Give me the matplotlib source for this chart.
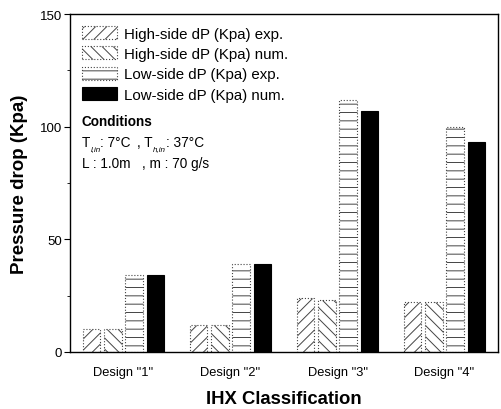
import matplotlib.pyplot as plt
from matplotlib.patches import Patch
import numpy as np

plt.rcParams["font.family"] = ["Liberation Sans", "DejaVu Sans"]
plt.rcParams["hatch.linewidth"] = 0.7

designs = ['Design "1"', 'Design "2"', 'Design "3"', 'Design "4"']
series_labels = ["High-side dP (Kpa) exp.", "High-side dP (Kpa) num.",
                 "Low-side dP (Kpa) exp.", "Low-side dP (Kpa) num."]
high_exp = [10, 12, 24, 22]
high_num = [10, 12, 23, 22]
low_exp = [34, 39, 112, 100]
low_num = [34, 39, 107, 93]

series = [high_exp, high_num, low_exp, low_num]
hatches = ["///", "\\\\\\", "--", None]
faces = ["white", "white", "white", "black"]
edges = ["#444444", "#444444", "#444444", "black"]
styles = [":", ":", ":", "-"]

W, H = 501, 410
fig = plt.figure(figsize=(W / 100, H / 100), dpi=100)
ax = fig.add_axes([70 / W, 57 / H, 428 / W, 338 / H])

x = np.arange(len(designs))
offsets = [-0.3, -0.1, 0.1, 0.3]
width = 0.165
for vals, off, h, fc, ec, ls in zip(series, offsets, hatches, faces, edges, styles):
    ax.bar(x + off, vals, width, facecolor=fc, edgecolor=ec, hatch=h,
           linewidth=0.8, linestyle=ls)

ax.set_xlim(-0.5, 3.5)
ax.set_ylim(0, 150)
ax.set_xticks(x)
ax.set_xticklabels(designs, fontsize=9.3)
ax.tick_params(axis="x", length=0, pad=10)
ax.set_yticks([0, 50, 100, 150])
ax.set_yticks([25, 75, 125], minor=True)
ax.tick_params(axis="y", which="major", length=4, labelsize=9.5, pad=1.5)
ax.tick_params(axis="y", which="minor", length=2.5)
for s in ax.spines.values():
    s.set_linewidth(1.0)

ax.set_ylabel("Pressure drop (Kpa)", fontsize=13.5, fontweight="bold", labelpad=9)
ax.set_xlabel("IHX Classification", fontsize=13.3, fontweight="bold", labelpad=9)

handles = [Patch(facecolor=fc, edgecolor=ec, hatch=h, linewidth=0.8, linestyle=ls)
           for h, fc, ec, ls in zip(hatches, faces, edges, styles)]
ax.legend(handles, series_labels, loc="upper left", frameon=False, fontsize=10.8,
          handlelength=2.3, handleheight=0.95, labelspacing=0.38,
          handletextpad=0.5, borderaxespad=0, borderpad=0,
          bbox_to_anchor=(12 / 428, 1 - 12 / 338))


def ptext(px, py, s, fs=9.8, **kw):
    # text placed in figure pixel coordinates (top-left origin)
    fig.text(px / W, 1 - py / H, s, fontsize=fs, va="center", ha="left", **kw)


ptext(82, 122, "Conditions", fontweight="bold")
ptext(82, 143, "T")
ptext(90.5, 149.5, "l,in", fs=5.8, style="italic")
ptext(100, 143, ": 7°C")
ptext(137, 143, ", T")
ptext(152.5, 149.5, "h,in", fs=5.8, style="italic")
ptext(166, 143, ": 37°C")
ptext(82, 164, "L : 1.0m")
ptext(142, 164, ", m : 70 g/s")

fig.savefig("out.png", dpi=100, facecolor="white")
